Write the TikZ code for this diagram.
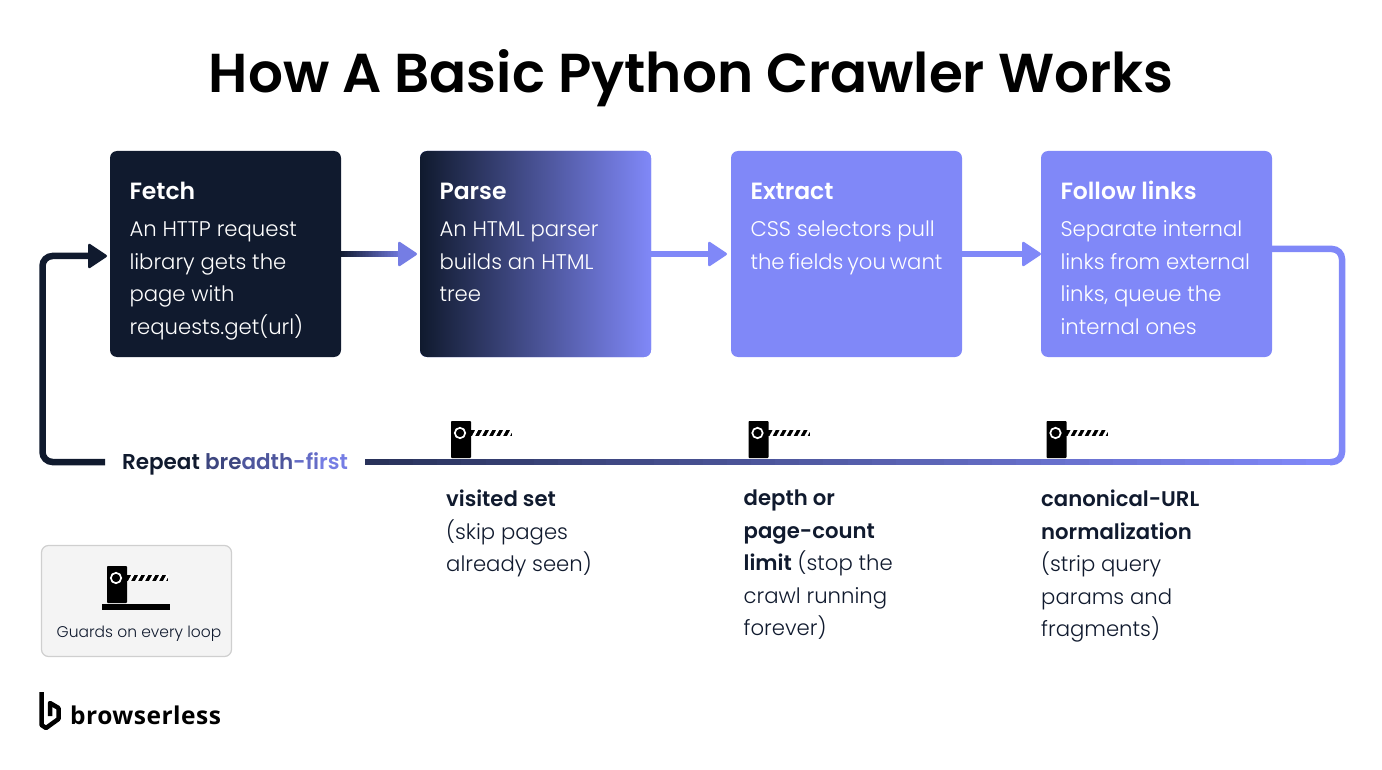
\documentclass[tikz,border=0pt]{standalone}
\usepackage{fontspec}
\setmainfont{Poppins Light}
\newfontfamily\titlefont{Poppins SemiBold}
\newfontfamily\headfont{Poppins SemiBold}
\newfontfamily\logofont[LetterSpace=2]{Open Sans Bold}
\usetikzlibrary{arrows.meta, positioning, calc}

\definecolor{navy}{HTML}{101A2E}
\definecolor{peri}{HTML}{8088F8}
\definecolor{guardfill}{HTML}{F4F4F4}
\definecolor{guardline}{HTML}{CFCFCF}

% one step box: heading and body sit at the top of the box
\newcommand{\steptext}[2]{\parbox[c][206pt][t]{192pt}{\vspace{26.25pt}{\headfont\fontsize{23.5}{32.5}\selectfont\strut #1}\\[4.5pt]\fontsize{21.2}{32.5}\selectfont #2}}
% straight link whose colour runs from navy to peri
\newcommand{\gradlink}[4]{%
    \foreach \i in {1,...,40} {
        \pgfmathsetmacro{\ta}{(\i-1)/40}
        \pgfmathsetmacro{\tb}{min(1,\i/40+0.01)}
        \pgfmathsetmacro{\tm}{#3+(#4-#3)*\i/40}
        \draw[linkline, line cap=butt, color=peri!\tm!navy] ($(#1)!\ta!(#2)$) -- ($(#1)!\tb!(#2)$);
    }
}

\tikzset{
    stepbox/.style={rounded corners=7pt, minimum width=231pt, minimum height=206pt, inner sep=0pt, outer sep=0pt, text=white, fill=peri, align=left},
    linkline/.style={line width=6.5pt},
    linktip/.style={-{Triangle[round, length=20pt, width=26pt, line width=2.5pt]}},
    notetext/.style={anchor=north west, inner sep=0pt, align=left, text=navy, font=\fontsize{21.2}{32.5}\selectfont},
    gate/.pic={
        \fill[black, rounded corners=0.8pt] (0,0) rectangle (20,37);
        \fill[black] (15,8.5) rectangle (61,15);
        \foreach \s in {0,...,5}
            \fill[white] (21+\s*7,15) -- (24+\s*7,15) -- (27.5+\s*7,8.5) -- (24.5+\s*7,8.5) -- cycle;
        \fill[black] (9,12) circle (6.8);
        \draw[white, line width=1.7pt] (9,12) circle (5.2);
    },
}

\begin{document}
\begin{tikzpicture}[x=1pt, y=-1pt]
    \useasboundingbox (0,0) rectangle (1382,770);

    \node[inner sep=0pt, text=black, font=\titlefont\fontsize{54.8}{60}\selectfont] (title) at (691,78) {How A Basic Python Crawler Works};

    \node[stepbox, fill=navy] (fetch) at (225.5,254) {\steptext{Fetch}{An HTTP request\\library gets the\\page with\\requests.get(url)}};
    \node[stepbox, left color=navy, right color=peri, right=79pt of fetch] (parse) {\steptext{Parse}{An HTML parser\\builds an HTML\\tree}};
    \node[stepbox, right=80pt of parse] (extract) {\steptext{Extract}{CSS selectors pull\\the fields you want}};
    \node[stepbox, right=79pt of extract] (follow) {\steptext{Follow links}{Separate internal\\links from external\\links, queue the\\internal ones}};

    % arrows between the steps
    \gradlink{fetch.east}{$(parse.west)+(-20,0)$}{0}{85}
    \draw[linkline, linktip, color=peri!90!navy, shorten >=3pt] ($(parse.west)+(-22,0)$) -- (parse.west);
    \draw[linkline, linktip, peri, shorten >=4pt] (parse.east) -- (extract.west);
    \draw[linkline, linktip, peri] (extract.east) -- (follow.west);

    % the loop back
    \node[inner sep=0pt, font=\headfont\fontsize{21.5}{26}\selectfont] (repeat) at (235,464) {\textcolor{navy}{Repeat} \textcolor{peri!40!navy}{bre}\textcolor{peri!55!navy}{adth}\textcolor{peri!75!navy}{-fi}\textcolor{peri!90!navy}{rst}};
    \coordinate (corner) at (1342,462);
    \coordinate (loopend) at (1330,462);
    \coordinate (loopstart) at (365,462);
    \coordinate (loopback) at (105,462);
    \draw[linkline, peri, rounded corners=10pt] ($(follow.east)+(0,-5)$) -| (corner) -- (loopend);
    \gradlink{loopstart}{loopend}{20}{100}
    \draw[linkline, linktip, navy, rounded corners=10pt, shorten >=3pt] (loopback) -| (42.5,256) -- (fetch.west |- 0,256);

    % guards on the loop
    \pic at (451,421) {gate};
    \pic at (748.5,421) {gate};
    \pic at (1046.5,421) {gate};

    \node[notetext] (visited) at (446,490) {{\headfont visited set}\\(skip pages\\already seen)};
    \node[notetext] (depth) at (743.5,490) {{\headfont depth or}\\{\headfont page-count}\\{\headfont limit} (stop the\\crawl running\\forever)};
    \node[notetext] (canonical) at (1041,490) {{\headfont canonical-URL}\\{\headfont normalization}\\(strip query\\params and\\fragments)};

    % legend
    \node[draw=guardline, fill=guardfill, line width=1.2pt, rounded corners=7pt, minimum width=190pt, minimum height=111pt, inner sep=0pt, outer sep=0pt] (legend) at (136.5,601) {};
    \pic at (107,566) {gate};
    \fill[black] (102,604) rectangle (170,610);
    \node[inner sep=0pt, text=navy, font=\fontsize{15.5}{20}\selectfont] (legendtext) at (139,634) {Guards on every loop};

    % logo
    \draw[black, line width=4.5pt, line join=round] (41.5,692) -- (41.5,725) -- (46,728) -- (58.5,719) -- (58.5,708) -- (50,703) -- (50,716);
    \node[inner sep=0pt, anchor=west, text=black, font=\logofont\fontsize{24.5}{28}\selectfont] (logo) at (70,715) {browserless};
\end{tikzpicture}
\end{document}
